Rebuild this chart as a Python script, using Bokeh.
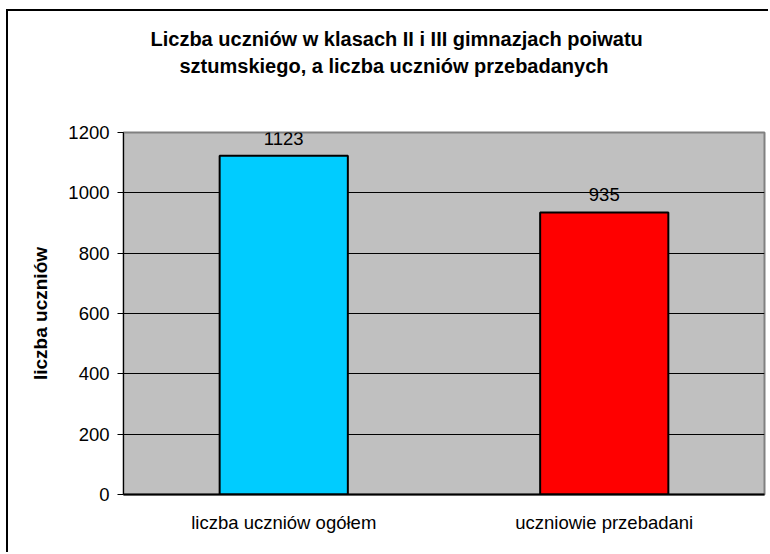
from bokeh.plotting import figure
from bokeh.models import ColumnDataSource, LabelSet, Title, SingleIntervalTicker, Range1d, FactorRange
from bokeh.core.properties import value
from bokeh.embed import file_html
from bokeh.resources import INLINE

categories = ["liczba uczniów ogółem", "uczniowie przebadani"]
values = [1123, 935]
colors = ["#00CCFF", "#FF0000"]
value_labels = ["1123", "935"]
title_lines = ["Liczba uczniów w klasach II i III gimnazjach poiwatu",
               "sztumskiego, a liczba uczniów przebadanych"]
y_label = "liczba uczniów"
y_max = 1200
y_step = 200

FONT = "Liberation Sans"

src = ColumnDataSource(dict(cat=categories, val=values, color=colors, lab=value_labels))

p = figure(x_range=FactorRange(*categories), y_range=Range1d(0, y_max),
           width=762, height=543, output_backend="svg", toolbar_location=None,
           title=None, min_border_left=115, min_border_right=6,
           min_border_top=121, min_border_bottom=60)

p.margin = (11, 0, 0, 8)
p.styles = {"box-shadow": "-2px -2px 0 0 black"}

p.background_fill_color = "#C0C0C0"
p.border_fill_color = "white"
p.outline_line_color = "#808080"
p.outline_line_width = 2

p.vbar(x="cat", top="val", width=0.4, source=src, fill_color="color",
       line_color="black", line_width=2)

p.xgrid.grid_line_color = None
p.ygrid.grid_line_color = "black"
p.ygrid.grid_line_width = 1

p.yaxis.ticker = SingleIntervalTicker(interval=y_step)
p.yaxis.minor_tick_line_color = None
p.yaxis.major_tick_in = 0
p.yaxis.major_tick_out = 6
p.yaxis.major_tick_line_color = "black"
p.yaxis.axis_line_color = "black"
p.yaxis.major_label_text_font = FONT
p.yaxis.major_label_text_font_size = "18.5px"
p.yaxis.major_label_text_color = "black"
p.yaxis.major_label_standoff = 8
p.yaxis.axis_label = y_label
p.yaxis.axis_label_text_font = FONT
p.yaxis.axis_label_text_font_size = "19px"
p.yaxis.axis_label_text_font_style = "bold"
p.yaxis.axis_label_text_color = "black"
p.yaxis.axis_label_standoff = 14

p.xaxis.major_tick_line_color = None
p.xaxis.major_tick_in = 0
p.xaxis.major_tick_out = 0
p.xaxis.axis_line_color = "black"
p.xaxis.axis_line_width = 2
p.xaxis.major_label_text_font = FONT
p.xaxis.major_label_text_font_size = "18.5px"
p.xaxis.major_label_text_color = "black"
p.xaxis.major_label_standoff = 17

labels = LabelSet(x="cat", y="val", text="lab", source=src, text_align="center",
                  text_baseline="alphabetic", y_offset=11, text_font=value(FONT),
                  text_font_size="18.5px", text_color="black")
p.add_layout(labels)

# spacer between the plot area and the two title lines
p.add_layout(Title(text=" ", standoff=29, text_font=FONT, text_font_size="20px"), "above")
# title lines: second line first (closest to the plot), then the first line
for line, off, so in zip(reversed(title_lines), [56, 27], [6, 0]):
    p.add_layout(Title(text=line, align="left", offset=off, standoff=so,
                       text_font=FONT, text_font_size="20px", text_font_style="bold",
                       text_color="black"), "above")

open("out.html", "w").write(file_html(p, INLINE))
